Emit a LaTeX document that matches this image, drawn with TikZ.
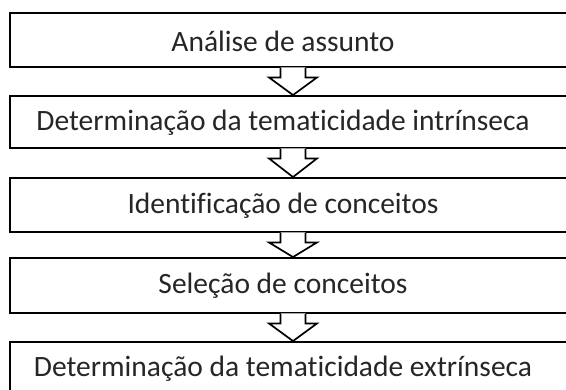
\documentclass[tikz,border=0pt]{standalone}
\usepackage{fontspec}
\setmainfont{Carlito}[Ligatures={NoCommon}]
\usetikzlibrary{calc}
\tikzset{
  box/.style={draw=black, line width=1.9pt, minimum width=580pt, inner sep=0pt, fill=white},
  lbl/.style={font=\fontsize{29.5}{33}\selectfont, inner sep=0pt, text=black!85},
  arrowline/.style={draw=black, line width=1.7pt, line join=miter},
}
\newcommand\flowarrow[2]{%
  \path let \p1=(#1.south), \p2=(#2.north) in
    [fill=white] (\x1-19.5pt,\y1+0.5pt) -- (\x1-19.5pt,\y1-9.5pt) -- (\x1-31pt,\y1-9.5pt) -- (\x1-7pt,\y2)
      -- (\x1+17pt,\y1-9.5pt) -- (\x1+5.5pt,\y1-9.5pt) -- (\x1+5.5pt,\y1+0.5pt) -- cycle;
  \path let \p1=(#1.south), \p2=(#2.north) in
    [arrowline] (\x1-19.5pt,\y1) -- (\x1-19.5pt,\y1-9.5pt) -- (\x1-31pt,\y1-9.5pt) -- (\x1-7pt,\y2)
      -- (\x1+17pt,\y1-9.5pt) -- (\x1+5.5pt,\y1-9.5pt) -- (\x1+5.5pt,\y1);
}
\begin{document}
\begin{tikzpicture}[x=1pt,y=-1pt]
\clip (0,0) rectangle (566,389);
\fill[white] (0,0) rectangle (566,389);
\node[box, minimum height=54pt] (b1) at (300,40) {};
\node[box, minimum height=52pt] (b2) at (300,122) {};
\node[box, minimum height=54pt] (b3) at (300,205) {};
\node[box, minimum height=55pt] (b4) at (300,285.5) {};
\node[box, minimum height=55pt] (b5) at (300,369.5) {};
\node[lbl] (t1) at (283,41) {Análise de assunto};
\node[lbl] (t2) at (283,123) {Determinação da tematicidade intrínseca};
\node[lbl] (t3) at (283,206) {Identificação de conceitos};
\node[lbl] (t4) at (283,286) {Seleção de conceitos};
\node[lbl] (t5) at (283,369) {Determinação da tematicidade extrínseca};
\flowarrow{b1}{b2}
\flowarrow{b2}{b3}
\flowarrow{b3}{b4}
\flowarrow{b4}{b5}
\end{tikzpicture}
\end{document}
